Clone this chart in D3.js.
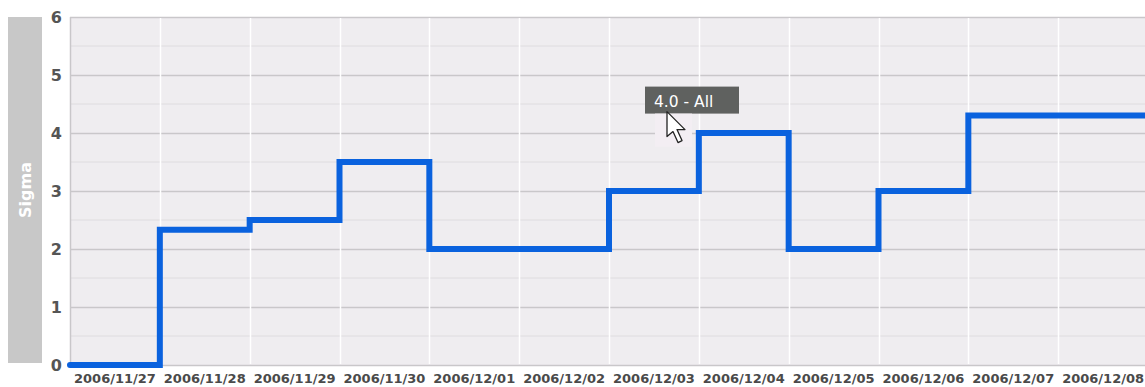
<!DOCTYPE html>
<html><head><meta charset="utf-8">
<script src="https://cdn.jsdelivr.net/npm/d3@7"></script>
<style>body{margin:0;background:#fff}svg{display:block}</style>
</head><body>
<svg id="c" width="1145" height="387"></svg>
<script>
const categories = ["2006/11/27","2006/11/28","2006/11/29","2006/11/30","2006/12/01","2006/12/02","2006/12/03","2006/12/04","2006/12/05","2006/12/06","2006/12/07","2006/12/08"];
const sigmaValues = [0, 2.33, 2.5, 3.5, 2, 2, 3, 4, 2, 3, 4.3, 4.3];
const yTicks = [0,1,2,3,4,5,6];
const yMinorTicks = [0.5,1.5,2.5,3.5,4.5,5.5];
const tooltipText = "4.0 - All";
const yTitle = "Sigma";

const FONT = "DejaVu Sans, Verdana, sans-serif";
const svg = d3.select("#c");
const L = 70, T = 17, B = 365, R = 1148;
const x = d3.scaleBand().domain(categories).range([L, R]).padding(0);
const y = d3.scaleLinear().domain([0,6]).range([B, T]);

// plot background
svg.append("rect").attr("x", L).attr("y", T).attr("width", 1145-L).attr("height", B-T).attr("fill", "#efedf0");

// minor horizontal grid
svg.append("g").selectAll("line").data(yMinorTicks).join("line")
  .attr("x1", L).attr("x2", 1145).attr("y1", d=>y(d)).attr("y2", d=>y(d))
  .attr("stroke", "#dedcdf").attr("stroke-width", 1);
// major horizontal grid
svg.append("g").selectAll("line").data(yTicks).join("line")
  .attr("x1", L).attr("x2", 1145).attr("y1", d=>Math.round(y(d))+0.5).attr("y2", d=>Math.round(y(d))+0.5)
  .attr("stroke", "#c9c7ca").attr("stroke-width", 1.5);
// vertical white grid at band boundaries
svg.append("g").selectAll("line").data(categories.slice(1)).join("line")
  .attr("x1", d=>Math.round(x(d))+0.5).attr("x2", d=>Math.round(x(d))+0.5).attr("y1", T+1).attr("y2", B-1)
  .attr("stroke", "#ffffff").attr("stroke-width", 1.5);
// left axis line
svg.append("line").attr("x1", L+0.5).attr("x2", L+0.5).attr("y1", T).attr("y2", B)
  .attr("stroke", "#c9c7ca").attr("stroke-width", 1.5);

// Y axis labels
const yAxis = d3.axisLeft(y).tickValues(yTicks).tickSize(0).tickPadding(0).tickFormat(d3.format("d"));
const ya = svg.append("g").attr("transform", `translate(${L-8},0)`).call(yAxis);
ya.select(".domain").remove();
ya.selectAll("text").attr("font-family",FONT).attr("font-size",16).attr("font-weight","bold").attr("fill","#555").attr("dy","0.35em");

// X axis labels
const xAxis = d3.axisBottom(x).tickSize(0).tickPadding(0);
const xa = svg.append("g").attr("transform", `translate(0,${B+9})`).call(xAxis);
xa.select(".domain").remove();
xa.selectAll("text").attr("font-family",FONT).attr("font-size",13).attr("font-weight","bold").attr("fill","#4a4a4a").attr("dy","0.71em");

// Sigma title bar
svg.append("rect").attr("x", 8).attr("y", T).attr("width", 34).attr("height", 346).attr("fill", "#c8c8c8");
svg.append("text").attr("transform", `translate(31,${(T+363)/2}) rotate(-90)`).attr("text-anchor","middle")
  .attr("font-family",FONT).attr("font-size",16).attr("font-weight","bold").attr("fill","#fff").text(yTitle);

// step line
const pts = categories.map((c,i)=>[x(c), sigmaValues[i]]);
pts.push([x(categories[categories.length-1]) + x.bandwidth(), sigmaValues[sigmaValues.length-1]]);
const line = d3.line().x(d=>d[0]).y(d=>y(d[1])).curve(d3.curveStepAfter);
svg.append("path").datum(pts).attr("d", line).attr("fill","none")
  .attr("stroke","#0a62de").attr("stroke-width",6).attr("stroke-linejoin","miter").attr("stroke-linecap","round");

// tooltip
const tx = x("2006/12/03") + 36, ty = y(4.8);
svg.append("rect").attr("x", tx).attr("y", ty).attr("width", 94).attr("height", 27).attr("fill", "#5f615f");
svg.append("text").attr("x", tx+9).attr("y", ty+20).attr("font-family",FONT)
  .attr("font-size",15.5).attr("fill","#fff").text(tooltipText);
// cursor highlight and cursor
svg.append("rect").attr("x", tx+10).attr("y", ty+27).attr("width", 37).attr("height", 33).attr("fill", "#f3eef3");
const cx = tx+22, cy = ty+25;
svg.append("path").attr("d", `M${cx},${cy} l0,25 l6,-5 l5,11 l4,-2 l-5,-11 l8,0 z`)
  .attr("fill","#fff").attr("stroke","#222").attr("stroke-width",1.3).attr("stroke-linejoin","round");
</script>
</body></html>
